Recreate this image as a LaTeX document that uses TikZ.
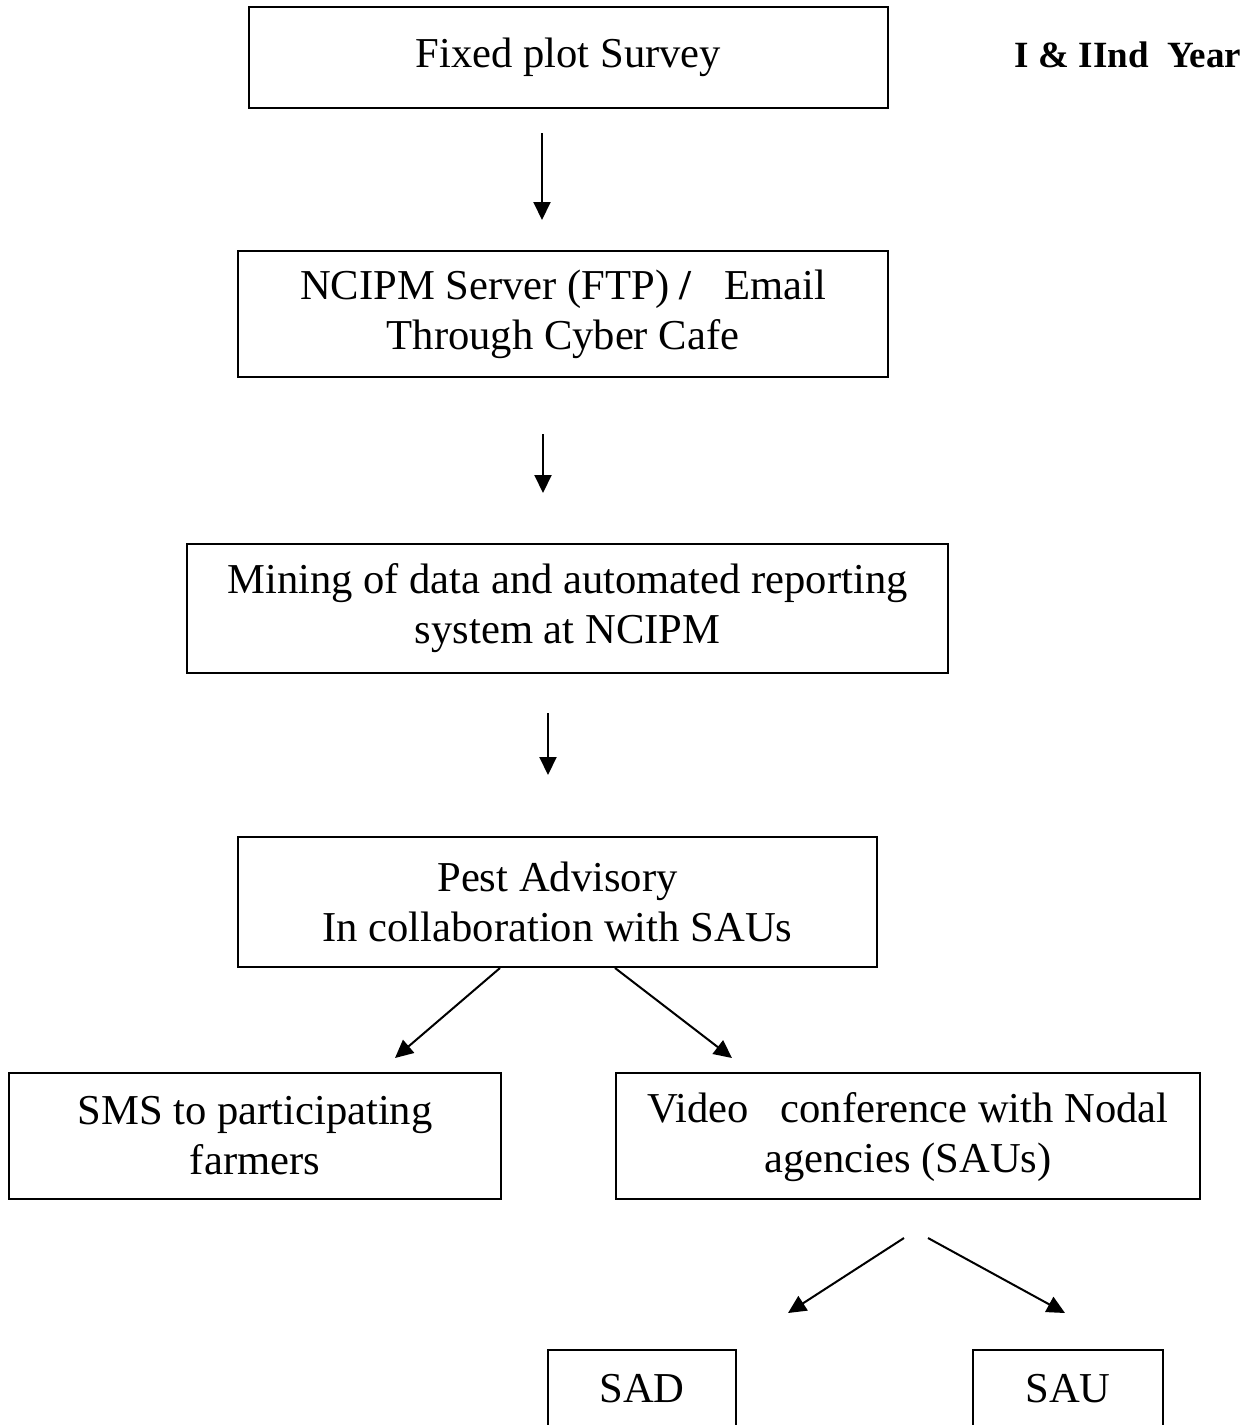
\documentclass[tikz,border=0pt]{standalone}
\usepackage{fontspec}
\setmainfont{Liberation Serif}
\usetikzlibrary{arrows.meta}
\begin{document}
\begin{tikzpicture}[x=0.5pt,y=-0.5pt,
  box/.style={draw, line width=1pt, inner sep=0pt, align=center,
    font=\fontsize{21.3}{25}\selectfont},
  flow/.style={line width=1pt, -{Triangle[length=9pt,width=8.5pt]}}]
\clip (0,0) rectangle (1258,1425);

% process boxes
\node[box, minimum width=319.5pt, minimum height=50.5pt] (fps) at (568.5,57.5) {Fixed plot Survey};
\node[box, minimum width=325pt, minimum height=63pt] (srv) at (563,314)
  {NCIPM Server (FTP) \textbf{/}\ \ \ Email\\Through Cyber Cafe};
\node[box, minimum width=380.5pt, minimum height=64.5pt] (mine) at (567.5,608.5)
  {Mining of data and automated reporting\\system at NCIPM};
\node[box, minimum width=319.5pt, minimum height=65pt] (pest) at (557.5,902)
  {Pest Advisory\\In collaboration with SAUs};
\node[box, minimum width=246pt, minimum height=63pt] (sms) at (255,1136)
  {SMS to participating\\farmers};
\node[box, minimum width=292pt, minimum height=63pt, text depth=4pt] (vc) at (908,1136)
  {Video\ \ \ conference with Nodal\\agencies (SAUs)};
\node[box, anchor=north, minimum width=94pt, text height=26pt, text depth=60pt] (sad) at (642,1349) {SAD};
\node[box, anchor=north, minimum width=95pt, text height=26pt, text depth=60pt] (sau) at (1068,1349) {SAU};

% side label
\node[font=\fontsize{18.5}{22}\selectfont\bfseries] (yr) at (1128,55) {I \& IInd\ \ Year};

% arrow end points
\coordinate (a1s) at (542,133);  \coordinate (a1e) at (542,220);
\coordinate (a2s) at (543,434);  \coordinate (a2e) at (543,493);
\coordinate (a3s) at (548,713);  \coordinate (a3e) at (548,775);
\coordinate (l1s) at (500,968);  \coordinate (l1e) at (395,1058);
\coordinate (r1s) at (615,968);  \coordinate (r1e) at (732,1058);
\coordinate (l2s) at (904,1238); \coordinate (l2e) at (788,1313);
\coordinate (r2s) at (928,1238); \coordinate (r2e) at (1065,1313);

\draw[flow] (a1s) -- (a1e);
\draw[flow] (a2s) -- (a2e);
\draw[flow] (a3s) -- (a3e);
\draw[flow] (l1s) -- (l1e);
\draw[flow] (r1s) -- (r1e);
\draw[flow] (l2s) -- (l2e);
\draw[flow] (r2s) -- (r2e);
\end{tikzpicture}
\end{document}
